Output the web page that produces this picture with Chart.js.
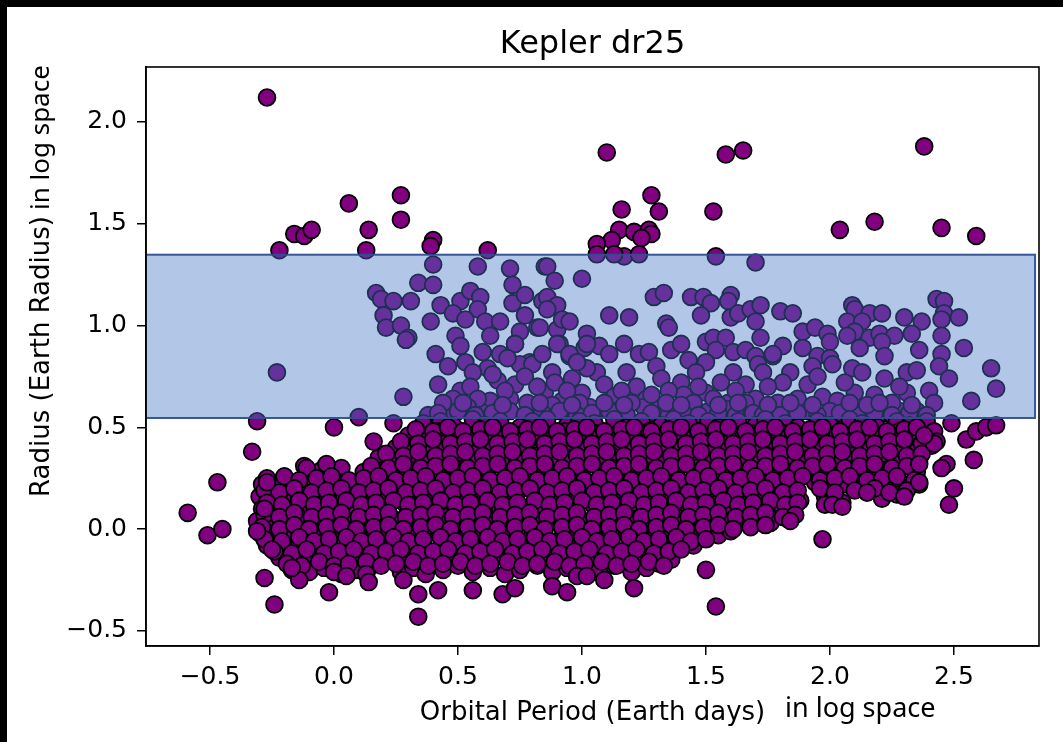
<!DOCTYPE html>
<html>
<head>
<meta charset="utf-8">
<script src="https://cdn.jsdelivr.net/npm/chart.js@4.4.1/dist/chart.umd.min.js"></script>
<style>
  html, body { margin: 0; padding: 0; background: #000; }
  #wrap { position: absolute; left: 7px; top: 7px; width: 1056px; height: 735px; background: #fff; }
  canvas { display: block; }
</style>
</head>
<body>
<div id="wrap"><canvas id="scatter-kepler" width="1056" height="735"></canvas></div>
<script>
// axes
var xRange = [-0.758, 2.843];
var yRange = [-0.574, 2.270];
var xTicks = [-0.5, 0.0, 0.5, 1.0, 1.5, 2.0, 2.5];
var xTickLabels = ['\u22120.5', '0.0', '0.5', '1.0', '1.5', '2.0', '2.5'];
var yTicks = [-0.5, 0.0, 0.5, 1.0, 1.5, 2.0];
var yTickLabels = ['\u22120.5', '0.0', '0.5', '1.0', '1.5', '2.0'];

// highlighted band (log period, log radius)
var boxX = [-0.76, 2.827];
var boxY = [0.546, 1.348];

// planets above the band
var upperPoints = [
  [-0.27,2.12],[0.06,1.60],[0.27,1.64],[0.27,1.52],[0.14,1.47],[-0.16,1.45],[-0.12,1.44],[-0.09,1.47],
  [-0.22,1.37],[0.13,1.37],[0.40,1.42],[0.39,1.39],[0.62,1.37],[1.10,1.85],[1.58,1.84],[1.65,1.86],
  [2.38,1.88],[1.28,1.64],[1.16,1.57],[1.31,1.56],[1.53,1.56],[1.15,1.47],[1.21,1.46],[1.27,1.47],
  [1.28,1.45],[1.24,1.43],[1.12,1.42],[1.06,1.40],[1.06,1.35],[1.17,1.34],[1.13,1.35],[1.23,1.35],
  [1.54,1.34],[1.70,1.31],[2.04,1.47],[2.18,1.51],[2.45,1.48],[2.59,1.44]
];

// planets inside the band
var boxPoints = [
  [0.40,1.30],[0.58,1.29],[0.71,1.28],[0.85,1.29],[0.34,1.21],[0.40,1.20],[0.72,1.20],[0.17,1.16],
  [0.19,1.13],[0.24,1.12],[0.31,1.12],[0.20,1.05],[0.21,0.99],[0.27,1.00],[0.30,0.94],[0.39,1.02],
  [0.41,0.86],[0.43,1.10],[0.51,1.12],[0.55,1.17],[0.59,1.14],[0.58,1.08],[0.48,1.06],[0.53,1.03],
  [0.61,1.02],[0.67,1.02],[0.72,1.11],[0.77,1.15],[0.84,1.12],[0.77,1.05],[0.49,0.95],[0.51,0.90],
  [0.63,0.95],[0.73,0.91],[0.75,0.97],[0.82,0.99],[0.60,0.87],[0.67,0.86],[0.53,0.82],[0.79,0.82],
  [0.86,1.29],[0.89,1.22],[1.00,1.23],[0.86,1.14],[0.90,1.10],[0.86,1.08],[0.83,0.99],[0.90,0.98],
  [0.92,1.03],[0.95,1.02],[0.91,0.91],[1.02,0.96],[1.01,0.89],[1.07,0.90],[1.11,0.86],[0.95,0.85],
  [1.17,0.91],[1.11,1.05],[1.19,1.04],[1.29,1.14],[1.33,1.16],[1.34,1.01],[1.35,0.99],[1.23,0.86],
  [1.27,0.87],[1.36,0.88],[1.40,0.91],[1.44,1.14],[1.49,1.14],[1.52,1.11],[1.60,1.15],[1.59,1.12],
  [1.48,1.05],[1.60,1.04],[1.63,1.06],[1.68,1.08],[1.72,1.10],[1.70,1.02],[1.80,1.07],[1.85,1.06],
  [1.72,0.94],[1.81,0.90],[1.50,0.92],[1.53,0.94],[1.58,0.94],[1.54,0.88],[1.61,0.87],[1.66,0.88],
  [1.70,0.85],[1.77,0.85],[1.89,0.97],[1.94,0.99],[1.99,0.96],[2.00,0.92],[1.89,0.89],[1.95,0.85],
  [2.00,0.84],[2.09,1.10],[2.10,1.08],[2.16,1.06],[2.21,1.06],[2.07,1.02],[2.13,1.02],[2.10,0.97],
  [2.07,0.95],[2.16,0.94],[2.20,0.96],[2.26,0.95],[2.21,0.92],[2.12,0.89],[2.22,0.85],[2.30,1.04],
  [2.37,1.02],[2.43,1.13],[2.46,1.12],[2.46,1.06],[2.45,1.03],[2.52,1.04],[2.33,0.96],[2.36,0.88],
  [2.45,0.95],[2.45,0.86],[2.54,0.89],[2.65,0.79],
  [1.43,0.83],[1.50,0.82],[1.71,0.81],[1.77,0.86],
  [1.06,0.77],[1.18,0.77],[1.30,0.80],[1.46,0.77],[1.61,0.77],[1.73,0.77],[1.84,0.77],[1.93,0.80],
  [2.01,0.81],[2.09,0.79],[2.13,0.77],[2.31,0.77],[2.35,0.78],[2.44,0.80],
  [1.09,0.71],[1.22,0.70],[1.32,0.74],[1.40,0.72],[1.56,0.72],[1.66,0.71],[1.81,0.72],[1.91,0.71],[2.67,0.69],
  [1.13,0.65],[1.26,0.64],[1.41,0.66],[1.50,0.67],[1.59,0.62],[1.70,0.64],[1.87,0.64],[1.97,0.65],
  [2.03,0.63],[2.10,0.67],[2.18,0.66],[2.31,0.67],[2.40,0.68],[2.42,0.62],[2.57,0.63],
  [1.07,0.59],[1.14,0.58],[1.25,0.60],[1.31,0.59],[1.38,0.58],[1.43,0.60],[1.51,0.58],[1.58,0.59],
  [1.66,0.58],[1.76,0.59],[1.83,0.58],[1.91,0.58],[2.00,0.58],[2.08,0.58],[2.15,0.59],[2.21,0.57],
  [2.28,0.58],[2.35,0.58],
  [0.73,0.91],[0.90,0.91],[0.95,0.86],[1.02,0.91],[0.62,0.79],[0.75,0.81],[0.80,0.81],[0.88,0.77],
  [1.02,0.79],[0.56,0.77],[0.66,0.73],[0.73,0.71],[0.85,0.67],[0.96,0.74],[1.00,0.67],[0.51,0.68],
  [0.48,0.64],[0.63,0.63],[0.71,0.64],[0.92,0.63],[1.03,0.60],[0.47,0.57],[0.59,0.58],[0.67,0.59],
  [0.79,0.58],[0.87,0.57],[0.95,0.58],[0.38,0.56],
  [-0.23,0.77],[0.28,0.65],[0.42,0.71],[0.29,0.93],[0.10,0.55],
  [0.44,0.62],[0.55,0.70],[0.58,0.64],[0.69,0.68],[0.77,0.75],[0.82,0.70],[0.89,0.72],[0.94,0.68],
  [0.99,0.62],[0.46,0.80],[0.70,0.84],[0.84,0.86],[0.98,0.82],[0.78,0.62],[0.88,0.61],[0.54,0.60],
  [0.64,0.76],[1.16,0.68],[1.35,0.68],[1.47,0.70],[1.62,0.68],[1.75,0.70],[1.95,0.75],[2.06,0.72],
  [2.22,0.74],[2.28,0.70],[1.28,0.66],[1.53,0.64],[1.79,0.62],[2.25,0.62],[2.48,0.74],[1.20,0.62],
  [1.45,0.62],[1.66,0.62]
];

// crowded strip along the bottom edge of the band
var bandBottomPoints = [
  [0.42,0.57],[0.50,0.58],[0.57,0.56],[0.64,0.57],[0.71,0.58],[0.77,0.56],[0.84,0.57],[0.91,0.58],[0.98,0.56],[1.04,0.57],
  [1.11,0.58],[1.18,0.56],[1.28,0.57],[1.35,0.56],[1.41,0.57],[1.47,0.56],[1.55,0.57],[1.62,0.56],[1.69,0.57],[1.73,0.56],
  [1.80,0.56],[1.87,0.57],[1.95,0.56],[2.04,0.57],[2.11,0.56],[2.18,0.57],[2.25,0.56],[2.32,0.57],[2.39,0.56],
  [0.52,0.62],[0.68,0.61],[0.83,0.62],[0.96,0.61],[1.09,0.62],[1.17,0.61],[1.34,0.62],[1.40,0.61],[1.55,0.61],[1.63,0.62],
  [1.75,0.61],[1.84,0.62],[1.93,0.61],[2.08,0.62],[2.15,0.61],[2.20,0.62],[2.33,0.61]
];

// dense cloud below the band, read row by row
var corePoints = [
  [0.36,0.52],[0.43,0.53],[0.48,0.51],[0.56,0.54],[0.61,0.51],[0.67,0.53],[0.75,0.50],[0.80,0.53],[0.86,0.54],[0.94,0.51],[0.99,0.53],
  [1.05,0.52],[1.13,0.54],[1.18,0.50],[1.24,0.53],[1.32,0.51],[1.37,0.54],[1.43,0.52],[1.51,0.53],[1.55,0.50],[1.63,0.53],[1.70,0.51],
  [1.74,0.54],[1.82,0.52],[1.87,0.50],[1.95,0.53],[2.00,0.51],[2.08,0.54],[2.13,0.52],[2.19,0.50],[2.27,0.53],[2.32,0.51],[2.39,0.53],

  [0.30,0.46],[0.38,0.45],[0.42,0.48],[0.51,0.46],[0.55,0.44],[0.63,0.47],[0.68,0.45],[0.76,0.47],[0.80,0.44],[0.89,0.46],[0.93,0.48],
  [1.01,0.45],[1.06,0.47],[1.14,0.44],[1.18,0.46],[1.27,0.48],[1.31,0.45],[1.39,0.47],[1.44,0.44],[1.52,0.46],[1.56,0.48],[1.65,0.45],
  [1.69,0.47],[1.77,0.44],[1.82,0.47],[1.90,0.45],[1.94,0.48],[2.03,0.46],[2.07,0.44],[2.15,0.47],[2.20,0.45],[2.28,0.48],[2.33,0.45],[2.41,0.47],

  [0.25,0.40],[0.32,0.41],[0.37,0.39],[0.45,0.42],[0.50,0.38],[0.58,0.41],[0.62,0.39],[0.70,0.42],[0.75,0.40],[0.83,0.38],[0.87,0.41],
  [0.96,0.40],[1.00,0.42],[1.08,0.38],[1.13,0.41],[1.21,0.39],[1.25,0.42],[1.34,0.40],[1.38,0.38],[1.46,0.41],[1.51,0.39],[1.59,0.42],
  [1.63,0.40],[1.72,0.38],[1.76,0.41],[1.84,0.39],[1.89,0.42],[1.97,0.40],[2.01,0.38],[2.10,0.41],[2.14,0.39],[2.22,0.42],[2.27,0.40],[2.35,0.38],[2.41,0.41],

  [0.18,0.35],[0.24,0.33],[0.32,0.35],[0.36,0.32],[0.44,0.34],[0.49,0.36],[0.57,0.33],[0.61,0.35],[0.70,0.32],[0.74,0.34],[0.82,0.36],
  [0.87,0.33],[0.95,0.35],[0.99,0.32],[1.08,0.34],[1.12,0.36],[1.20,0.33],[1.25,0.35],[1.33,0.32],[1.37,0.34],[1.46,0.36],[1.50,0.33],
  [1.58,0.35],[1.63,0.32],[1.71,0.34],[1.75,0.36],[1.84,0.33],[1.88,0.35],[1.96,0.32],[2.01,0.34],[2.09,0.36],[2.13,0.33],[2.22,0.35],[2.26,0.32],[2.34,0.34],

  [-0.12,0.31],[-0.10,0.27],[-0.05,0.29],[0.03,0.30],[0.12,0.28],[0.20,0.29],[0.24,0.27],[0.32,0.29],[0.37,0.26],[0.45,0.28],[0.49,0.30],
  [0.58,0.27],[0.62,0.29],[0.70,0.26],[0.75,0.28],[0.83,0.30],[0.87,0.27],[0.96,0.29],[1.00,0.26],[1.08,0.28],[1.13,0.30],[1.21,0.27],
  [1.25,0.29],[1.34,0.26],[1.38,0.28],[1.46,0.30],[1.51,0.27],[1.59,0.29],[1.63,0.26],[1.72,0.28],[1.76,0.30],[1.84,0.27],[1.89,0.29],
  [1.97,0.26],[2.01,0.28],[2.10,0.30],[2.14,0.27],[2.22,0.29],[2.27,0.26],[2.35,0.28],

  [-0.29,0.22],[-0.22,0.23],[-0.17,0.21],[-0.09,0.24],[-0.05,0.21],[0.04,0.23],[0.08,0.20],[0.16,0.22],[0.21,0.24],[0.29,0.21],[0.33,0.23],
  [0.42,0.20],[0.46,0.22],[0.54,0.24],[0.59,0.21],[0.67,0.23],[0.71,0.20],[0.80,0.22],[0.84,0.24],[0.92,0.21],[0.97,0.23],[1.05,0.20],
  [1.09,0.22],[1.18,0.24],[1.22,0.21],[1.30,0.23],[1.35,0.20],[1.43,0.22],[1.47,0.24],[1.56,0.21],[1.60,0.23],[1.68,0.20],[1.73,0.22],
  [1.81,0.24],[1.85,0.21],[1.94,0.23],[1.98,0.20],[2.06,0.22],[2.11,0.24],[2.19,0.21],[2.23,0.23],[2.31,0.20],[2.36,0.22],

  [-0.30,0.16],[-0.25,0.14],[-0.19,0.17],[-0.14,0.15],[-0.06,0.17],[-0.02,0.14],[0.07,0.16],[0.11,0.18],[0.19,0.15],[0.24,0.17],[0.32,0.14],
  [0.36,0.16],[0.45,0.18],[0.49,0.15],[0.57,0.17],[0.62,0.14],[0.70,0.16],[0.74,0.18],[0.83,0.15],[0.87,0.17],[0.95,0.14],[1.00,0.16],
  [1.08,0.18],[1.12,0.15],[1.21,0.17],[1.25,0.14],[1.33,0.16],[1.38,0.18],[1.46,0.15],[1.50,0.17],[1.59,0.14],[1.63,0.16],[1.71,0.18],
  [1.76,0.15],[1.84,0.17],[1.88,0.14],[1.98,0.16],[2.05,0.13],[2.15,0.18],[2.21,0.15],[2.27,0.17],

  [-0.29,0.10],[-0.22,0.11],[-0.17,0.08],[-0.09,0.10],[-0.05,0.12],[0.04,0.09],[0.08,0.11],[0.16,0.08],[0.21,0.10],[0.29,0.12],[0.33,0.09],
  [0.42,0.11],[0.46,0.08],[0.54,0.10],[0.59,0.12],[0.67,0.09],[0.71,0.11],[0.80,0.08],[0.84,0.10],[0.92,0.12],[0.97,0.09],[1.05,0.11],
  [1.09,0.08],[1.18,0.10],[1.22,0.12],[1.30,0.09],[1.35,0.11],[1.43,0.08],[1.47,0.10],[1.56,0.12],[1.60,0.09],[1.68,0.11],[1.73,0.08],
  [1.81,0.10],[1.86,0.12],[1.98,0.12],

  [-0.31,0.04],[-0.25,0.02],[-0.19,0.05],[-0.14,0.03],[-0.06,0.05],[-0.02,0.02],[0.07,0.04],[0.11,0.06],[0.19,0.03],[0.24,0.05],[0.32,0.02],
  [0.36,0.04],[0.45,0.06],[0.49,0.03],[0.57,0.05],[0.62,0.02],[0.70,0.04],[0.74,0.06],[0.83,0.03],[0.87,0.05],[0.95,0.02],[1.00,0.04],
  [1.08,0.06],[1.12,0.03],[1.21,0.05],[1.25,0.02],[1.33,0.04],[1.38,0.06],[1.46,0.03],[1.50,0.05],[1.59,0.02],[1.63,0.04],[1.71,0.06],
  [1.76,0.03],[1.83,0.05],

  [-0.30,-0.02],[-0.22,-0.01],[-0.17,-0.03],[-0.09,-0.01],[-0.05,-0.04],[0.04,-0.02],[0.08,0.00],[0.16,-0.03],[0.21,-0.01],[0.29,-0.04],
  [0.33,-0.02],[0.42,0.00],[0.46,-0.03],[0.54,-0.01],[0.59,-0.04],[0.67,-0.02],[0.71,0.00],[0.80,-0.03],[0.84,-0.01],[0.92,-0.04],
  [0.97,-0.02],[1.05,0.00],[1.09,-0.03],[1.18,-0.01],[1.22,-0.04],[1.30,-0.02],[1.35,0.00],[1.43,-0.03],[1.47,-0.01],[1.55,-0.03],[1.60,-0.01],

  [-0.27,-0.08],[-0.19,-0.09],[-0.14,-0.07],[-0.06,-0.10],[-0.02,-0.07],[0.07,-0.09],[0.11,-0.06],[0.19,-0.08],[0.24,-0.10],[0.32,-0.07],
  [0.36,-0.09],[0.45,-0.06],[0.49,-0.08],[0.57,-0.10],[0.62,-0.07],[0.70,-0.09],[0.74,-0.06],[0.83,-0.08],[0.87,-0.10],[0.95,-0.07],
  [1.00,-0.09],[1.08,-0.06],[1.12,-0.08],[1.21,-0.10],[1.25,-0.07],[1.33,-0.09],[1.38,-0.06],[1.45,-0.08],

  [-0.22,-0.14],[-0.16,-0.15],[-0.09,-0.13],[-0.05,-0.16],[0.04,-0.13],[0.08,-0.15],[0.16,-0.12],[0.21,-0.14],[0.29,-0.16],[0.33,-0.13],
  [0.42,-0.15],[0.46,-0.12],[0.54,-0.14],[0.59,-0.16],[0.67,-0.13],[0.71,-0.15],[0.80,-0.12],[0.84,-0.14],[0.92,-0.16],[0.97,-0.13],
  [1.05,-0.15],[1.09,-0.12],[1.18,-0.14],[1.22,-0.16],[1.30,-0.13],[1.36,-0.15],

  [-0.17,-0.20],[-0.10,-0.21],[-0.04,-0.19],[0.03,-0.22],[0.09,-0.20],[0.14,-0.19],[0.27,-0.21],[0.32,-0.19],[0.37,-0.22],[0.44,-0.20],
  [0.50,-0.18],[0.56,-0.21],[0.63,-0.19],[0.69,-0.22],[0.75,-0.20],[0.82,-0.18],[0.88,-0.21],[0.94,-0.19],[1.01,-0.22],[1.07,-0.20],
  [1.13,-0.18],[1.20,-0.21],[1.26,-0.19],[1.31,-0.17]
];

// second pass over the cloud, between the rows above
var coreFillPoints = [
  [0.33,0.49],[0.40,0.48],[0.46,0.50],[0.52,0.48],[0.59,0.49],[0.64,0.50],[0.71,0.48],[0.78,0.49],[0.83,0.50],[0.90,0.48],[0.97,0.49],
  [1.02,0.50],[1.09,0.48],[1.16,0.49],[1.21,0.50],[1.28,0.48],[1.35,0.49],[1.40,0.50],[1.47,0.48],[1.54,0.49],[1.59,0.50],[1.66,0.48],
  [1.73,0.49],[1.78,0.50],[1.85,0.48],[1.92,0.49],[1.97,0.50],[2.04,0.48],[2.11,0.49],[2.16,0.50],[2.23,0.48],[2.30,0.49],[2.35,0.50],[2.42,0.48],

  [0.27,0.43],[0.34,0.42],[0.40,0.44],[0.47,0.42],[0.53,0.43],[0.59,0.44],[0.66,0.42],[0.72,0.43],[0.78,0.44],[0.85,0.42],[0.91,0.43],
  [0.97,0.44],[1.04,0.42],[1.10,0.43],[1.16,0.44],[1.23,0.42],[1.29,0.43],[1.35,0.44],[1.42,0.42],[1.48,0.43],[1.54,0.44],[1.61,0.42],
  [1.67,0.43],[1.73,0.44],[1.80,0.42],[1.86,0.43],[1.92,0.44],[1.99,0.42],[2.05,0.43],[2.11,0.44],[2.18,0.42],[2.24,0.43],[2.30,0.44],[2.37,0.42],[2.43,0.43],

  [0.21,0.37],[0.28,0.36],[0.34,0.38],[0.41,0.36],[0.47,0.37],[0.53,0.38],[0.60,0.36],[0.66,0.37],[0.72,0.38],[0.79,0.36],[0.85,0.37],
  [0.91,0.38],[0.98,0.36],[1.04,0.37],[1.10,0.38],[1.17,0.36],[1.23,0.37],[1.29,0.38],[1.36,0.36],[1.42,0.37],[1.48,0.38],[1.55,0.36],
  [1.61,0.37],[1.67,0.38],[1.74,0.36],[1.80,0.37],[1.86,0.38],[1.93,0.36],[1.99,0.37],[2.05,0.38],[2.12,0.36],[2.18,0.37],[2.24,0.38],[2.31,0.36],[2.37,0.37],

  [-0.11,0.30],[-0.03,0.32],[0.15,0.31],[0.22,0.30],[0.28,0.32],[0.35,0.30],[0.41,0.31],[0.47,0.32],[0.54,0.30],[0.60,0.31],[0.66,0.32],
  [0.73,0.30],[0.79,0.31],[0.85,0.32],[0.92,0.30],[0.98,0.31],[1.04,0.32],[1.11,0.30],[1.17,0.31],[1.23,0.32],[1.30,0.30],[1.36,0.31],
  [1.42,0.32],[1.49,0.30],[1.55,0.31],[1.61,0.32],[1.68,0.30],[1.74,0.31],[1.80,0.32],[1.87,0.30],[1.93,0.31],[1.99,0.32],[2.06,0.30],
  [2.12,0.31],[2.18,0.32],[2.25,0.30],[2.31,0.31],[2.36,0.32],

  [-0.27,0.25],[-0.20,0.26],[-0.14,0.24],[-0.07,0.25],[-0.01,0.26],[0.06,0.24],[0.12,0.25],[0.18,0.26],[0.25,0.24],[0.31,0.25],[0.37,0.26],
  [0.44,0.24],[0.50,0.25],[0.56,0.26],[0.63,0.24],[0.69,0.25],[0.75,0.26],[0.82,0.24],[0.88,0.25],[0.94,0.26],[1.01,0.24],[1.07,0.25],
  [1.13,0.26],[1.20,0.24],[1.26,0.25],[1.32,0.26],[1.39,0.24],[1.45,0.25],[1.51,0.26],[1.58,0.24],[1.64,0.25],[1.70,0.26],[1.77,0.24],
  [1.83,0.25],[1.89,0.26],[1.96,0.24],[2.02,0.25],[2.08,0.26],[2.15,0.24],[2.21,0.25],[2.27,0.26],[2.34,0.24],

  [-0.28,0.19],[-0.22,0.18],[-0.16,0.20],[-0.09,0.18],[-0.03,0.19],[0.03,0.20],[0.10,0.18],[0.16,0.19],[0.22,0.20],[0.29,0.18],[0.35,0.19],
  [0.41,0.20],[0.48,0.18],[0.54,0.19],[0.60,0.20],[0.67,0.18],[0.73,0.19],[0.79,0.20],[0.86,0.18],[0.92,0.19],[0.98,0.20],[1.05,0.18],
  [1.11,0.19],[1.17,0.20],[1.24,0.18],[1.30,0.19],[1.36,0.20],[1.43,0.18],[1.49,0.19],[1.55,0.20],[1.62,0.18],[1.68,0.19],[1.74,0.20],
  [1.81,0.18],[1.87,0.19],[1.96,0.20],[2.02,0.18],[2.10,0.19],[2.18,0.20],[2.24,0.18],[2.31,0.19],

  [-0.27,0.13],[-0.21,0.12],[-0.14,0.14],[-0.08,0.12],[-0.02,0.13],[0.05,0.14],[0.11,0.12],[0.17,0.13],[0.24,0.14],[0.30,0.12],[0.36,0.13],
  [0.43,0.14],[0.49,0.12],[0.55,0.13],[0.62,0.14],[0.68,0.12],[0.74,0.13],[0.81,0.14],[0.87,0.12],[0.93,0.13],[1.00,0.14],[1.06,0.12],
  [1.12,0.13],[1.19,0.14],[1.25,0.12],[1.31,0.13],[1.38,0.14],[1.44,0.12],[1.50,0.13],[1.57,0.14],[1.63,0.12],[1.69,0.13],[1.76,0.14],
  [1.82,0.12],[1.87,0.13],[2.01,0.12],

  [-0.28,0.07],[-0.22,0.06],[-0.16,0.08],[-0.09,0.06],[-0.03,0.07],[0.03,0.08],[0.10,0.06],[0.16,0.07],[0.22,0.08],[0.29,0.06],[0.35,0.07],
  [0.41,0.08],[0.48,0.06],[0.54,0.07],[0.60,0.08],[0.67,0.06],[0.73,0.07],[0.79,0.08],[0.86,0.06],[0.92,0.07],[0.98,0.08],[1.05,0.06],
  [1.11,0.07],[1.17,0.08],[1.24,0.06],[1.30,0.07],[1.36,0.08],[1.43,0.06],[1.49,0.07],[1.55,0.08],[1.62,0.06],[1.68,0.07],[1.74,0.08],
  [1.81,0.06],[1.86,0.07],

  [-0.29,0.01],[-0.22,0.00],[-0.16,0.02],[-0.10,0.00],[-0.03,0.01],[0.03,0.02],[0.09,0.00],[0.16,0.01],[0.22,0.02],[0.28,0.00],[0.35,0.01],
  [0.41,0.02],[0.47,0.00],[0.54,0.01],[0.60,0.02],[0.66,0.00],[0.73,0.01],[0.79,0.02],[0.85,0.00],[0.92,0.01],[0.98,0.02],[1.04,0.00],
  [1.11,0.01],[1.17,0.02],[1.23,0.00],[1.30,0.01],[1.36,0.02],[1.42,0.00],[1.49,0.01],[1.55,0.02],[1.61,0.00],[1.68,0.01],[1.74,0.02],

  [-0.28,-0.05],[-0.21,-0.06],[-0.14,-0.04],[-0.08,-0.06],[-0.02,-0.05],[0.05,-0.04],[0.11,-0.06],[0.17,-0.05],[0.24,-0.04],[0.30,-0.06],
  [0.36,-0.05],[0.43,-0.04],[0.49,-0.06],[0.55,-0.05],[0.62,-0.04],[0.68,-0.06],[0.74,-0.05],[0.81,-0.04],[0.87,-0.06],[0.93,-0.05],
  [1.00,-0.04],[1.06,-0.06],[1.12,-0.05],[1.19,-0.04],[1.25,-0.06],[1.31,-0.05],[1.38,-0.04],[1.44,-0.06],[1.50,-0.05],

  [-0.24,-0.11],[-0.17,-0.12],[-0.11,-0.10],[-0.04,-0.12],[0.02,-0.11],[0.08,-0.10],[0.15,-0.12],[0.21,-0.11],[0.27,-0.10],[0.34,-0.12],
  [0.40,-0.11],[0.46,-0.10],[0.53,-0.12],[0.59,-0.11],[0.65,-0.10],[0.72,-0.12],[0.78,-0.11],[0.84,-0.10],[0.91,-0.12],[0.97,-0.11],
  [1.03,-0.10],[1.10,-0.12],[1.16,-0.11],[1.22,-0.10],[1.29,-0.12],[1.35,-0.11],[1.40,-0.10],

  [-0.19,-0.17],[-0.13,-0.18],[-0.06,-0.16],[0.00,-0.18],[0.06,-0.17],[0.13,-0.16],[0.19,-0.18],[0.25,-0.17],[0.32,-0.16],[0.38,-0.18],
  [0.44,-0.17],[0.51,-0.16],[0.57,-0.18],[0.63,-0.17],[0.70,-0.16],[0.76,-0.18],[0.82,-0.17],[0.89,-0.16],[0.95,-0.18],[1.01,-0.17],
  [1.08,-0.16],[1.14,-0.18],[1.20,-0.17],[1.27,-0.16],[1.33,-0.18]
];

// scattered planets around the cloud
var lowerPoints = [
  [-0.59,0.08],[-0.51,-0.03],[-0.45,0.00],[-0.47,0.23],[-0.33,0.38],[-0.31,0.53],[-0.31,-0.01],[-0.28,-0.24],
  [-0.24,-0.37],[-0.25,-0.10],[-0.14,-0.25],[-0.17,-0.19],[0.00,-0.21],[0.05,-0.23],[0.13,-0.22],[0.14,-0.26],
  [0.28,-0.25],[0.34,-0.32],[0.42,-0.30],[0.56,-0.30],[0.68,-0.32],[0.73,-0.29],[0.88,-0.28],[0.94,-0.31],
  [0.98,-0.23],[1.02,-0.23],[-0.02,-0.31],[0.34,-0.43],[1.09,-0.25],[1.21,-0.29],[1.50,-0.20],[1.54,-0.38],
  [1.97,-0.05],[1.84,0.04],[2.05,0.11],[2.15,0.18],[2.30,0.16],[2.36,0.23],[2.48,0.12],[2.50,0.20],
  [2.58,0.34],[2.47,0.32],[2.45,0.30],[2.55,0.44],[2.59,0.48],[2.63,0.50],[2.67,0.51],[2.49,0.52],
  [2.42,0.42],[2.38,0.46],[-0.27,0.23],[-0.28,0.10],[0.00,0.50],[0.24,0.52],[0.16,0.43]
];

var allPoints = upperPoints.concat(boxPoints, bandBottomPoints, corePoints, coreFillPoints, lowerPoints);

var fontTick = { family: 'DejaVu Sans', size: 25 };

// band + frame + labels drawn over the points
var overlayPlugin = {
  id: 'overlay',
  afterDatasetsDraw: function(chart) {
    var ctx = chart.ctx;
    var area = chart.chartArea;
    var sx = chart.scales.x, sy = chart.scales.y;

    ctx.save();
    ctx.beginPath();
    ctx.rect(area.left, area.top, area.right - area.left, area.bottom - area.top);
    ctx.clip();
    var x0 = sx.getPixelForValue(boxX[0]), x1 = sx.getPixelForValue(boxX[1]);
    var y0 = sy.getPixelForValue(boxY[1]), y1 = sy.getPixelForValue(boxY[0]);
    ctx.fillStyle = 'rgba(69,118,199,0.41)';
    ctx.fillRect(x0, y0, x1 - x0, y1 - y0);
    ctx.strokeStyle = 'rgba(44,80,145,0.95)';
    ctx.lineWidth = 2;
    ctx.strokeRect(x0, y0, x1 - x0, y1 - y0);
    ctx.restore();

    ctx.save();
    ctx.strokeStyle = '#000';
    ctx.lineWidth = 1.6;
    ctx.strokeRect(area.left, area.top, area.right - area.left, area.bottom - area.top);

    ctx.fillStyle = '#000';
    var cx = (area.left + area.right) / 2;
    ctx.textBaseline = 'alphabetic';

    // title
    ctx.font = '32px "DejaVu Sans"';
    ctx.textAlign = 'center';
    ctx.fillText('Kepler dr25', cx, 46);

    // x label
    ctx.font = '26px "DejaVu Sans"';
    ctx.fillText('Orbital Period (Earth days)', cx, 713);
    ctx.textAlign = 'left';
    ctx.font = '27px "Noto Sans"';
    ctx.fillText('in log space', 778, 710);

    // y label
    var cy = (area.top + area.bottom) / 2;
    ctx.font = '26px "DejaVu Sans"';
    var w = ctx.measureText('Radius (Earth Radius)').width;
    ctx.translate(42, cy + w / 2);
    ctx.rotate(-Math.PI / 2);
    ctx.fillText('Radius (Earth Radius)', 0, 0);
    ctx.font = '26px "Noto Sans"';
    ctx.fillText('in log space', w + 6, 0);
    ctx.restore();
  }
};

new Chart(document.getElementById('scatter-kepler'), {
  type: 'scatter',
  data: {
    datasets: [{
      label: 'Kepler dr25',
      data: allPoints.map(function(p) { return { x: p[0], y: p[1] }; }),
      backgroundColor: '#800080',
      borderColor: '#000000',
      borderWidth: 1.8,
      pointRadius: 8.4,
      pointHoverRadius: 8.4
    }]
  },
  options: {
    responsive: false,
    animation: false,
    events: [],
    layout: { padding: { top: 60, right: 24, left: 0, bottom: 0 }, autoPadding: false },
    plugins: { legend: { display: false }, tooltip: { enabled: false }, title: { display: false } },
    scales: {
      x: {
        type: 'linear',
        min: xRange[0],
        max: xRange[1],
        afterFit: function(s) { s.height = 96; },
        afterBuildTicks: function(s) { s.ticks = xTicks.map(function(v) { return { value: v }; }); },
        ticks: {
          font: fontTick, color: '#000', padding: 7, maxRotation: 0, autoSkip: false,
          callback: function(v, i) { return xTickLabels[i]; }
        },
        grid: { display: true, drawOnChartArea: false, drawTicks: true, tickLength: 9, color: '#000', lineWidth: 1.5 },
        border: { display: true, color: '#000', width: 1.6 }
      },
      y: {
        type: 'linear',
        min: yRange[0],
        max: yRange[1],
        afterFit: function(s) { s.width = 139; },
        afterBuildTicks: function(s) { s.ticks = yTicks.map(function(v) { return { value: v }; }); },
        ticks: {
          font: fontTick, color: '#000', padding: 10, autoSkip: false,
          callback: function(v, i) { return yTickLabels[i]; }
        },
        grid: { display: true, drawOnChartArea: false, drawTicks: true, tickLength: 9, color: '#000', lineWidth: 1.5 },
        border: { display: true, color: '#000', width: 1.6 }
      }
    }
  },
  plugins: [overlayPlugin]
});
</script>
</body>
</html>
